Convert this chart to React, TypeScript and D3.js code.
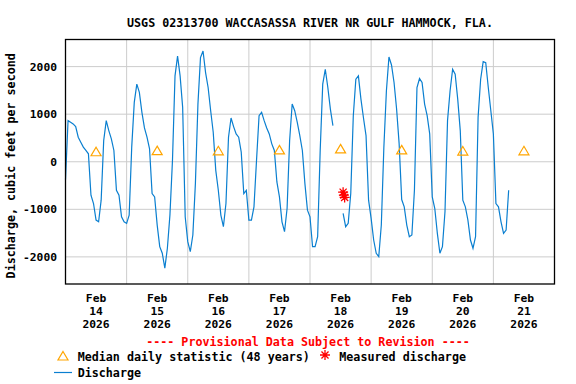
import React from 'react';
import * as d3 from 'd3';

const TITLE = 'USGS 02313700 WACCASASSA RIVER NR GULF HAMMOCK, FLA.';
const Y_LABEL = 'Discharge, cubic feet per second';
const PROVISIONAL = '---- Provisional Data Subject to Revision ----';

// discharge, one value per hour starting Feb 14 2026 00:00 (null = gap)
const seriesStart = new Date(2026, 1, 14, 0, 0);
const dischargeHourly: (number | null)[] = [
  -380, 864, 830, 795, 740, 516, 411, 307, 237, 167,
  -704, -878, -1227, -1262, -808, 446, 864, 655, 481, 237,
  -600, -704, -1157, -1262, -1296, -1122, 307, 1248, 1631, 1457,
  1039, 711, 516, 272, -669, -739, -1331, -1784, -1924, -2237,
  -1819, -1122, 28, 1805, 2223, 1805, 1143, -1157, -1680, -1889,
  -1540, -460, 1213, 2189, 2328, 1875, 1561, 1073, 620, -181,
  -600, -1122, -1366, -878, 516, 920, 739, 585, 516, 202,
  -669, -600, -1227, -1227, -948, 28, 969, 1039, 864, 711,
  585, 376, 237, -425, -739, -1262, -1471, -983, 446, 1213,
  1073, 829, 551, 237, -460, -1018, -1157, -1784, -1784, -1575,
  237, 1631, 1945, 1561, 1108, 760, null, null, null, -1087,
  -1366, -1296, -669, 969, 1735, 1805, 1317, 920, 551, -808,
  -1192, -1645, -1924, -1993, -1331, 307, 1492, 2203, 2035, 1666,
  1108, 376, -795, -948, -1331, -1575, -1540, -600, 1561, 1749,
  1666, 1213, 969, 585, -739, -983, -1505, -1924, -1784, -1052,
  864, 1492, 1945, 1840, 1317, 655, -808, -948, -1227, -1645,
  -1819, -1575, 934, 1735, 2105, 2084, 1561, 1073, 585, -878,
  -948, -1262, -1505, -1436, -600,
];

// median daily statistic, plotted at noon of each day
const medianDays = [14, 15, 16, 17, 18, 19, 20, 21];
const medianValues = [210, 235, 230, 250, 270, 250, 225, 230];

// field measurements on Feb 18
const measuredTimes = [
  new Date(2026, 1, 18, 13, 0),
  new Date(2026, 1, 18, 13, 18),
  new Date(2026, 1, 18, 13, 36),
];
const measuredValues = [-640, -700, -750];

const yTicks = [-2000, -1000, 0, 1000, 2000];

const W = 576;
const H = 384;
const m = { left: 65.5, right: 554.5, top: 39.5, bottom: 284 };

const FONT = "'DejaVu Sans Mono', 'Liberation Mono', monospace";
const BLUE = '#0a7fd0';
const ORANGE = '#ffa500';
const RED = '#ff0000';

const triangle = (x: number, y: number) =>
  `M${x},${y - 4.5}L${x + 5},${y + 4}L${x - 5},${y + 4}Z`;

const Asterisk: React.FC<{ x: number; y: number; r?: number }> = ({ x, y, r = 5 }) => {
  const d = d3.range(4).map((i) => {
    const a = (i * Math.PI) / 4;
    const dx = Math.cos(a) * r;
    const dy = Math.sin(a) * r;
    return `M${x - dx},${y - dy}L${x + dx},${y + dy}`;
  }).join('');
  return <path d={d} stroke={RED} strokeWidth={1.3} fill="none" />;
};

export default function App() {
  const x = d3
    .scaleTime()
    .domain([new Date(2026, 1, 14), new Date(2026, 1, 22)])
    .range([m.left, m.right]);
  const y = d3.scaleLinear().domain([-2570, 2570]).range([m.bottom, m.top]);

  const points = dischargeHourly.map((v, i) => ({
    t: d3.timeHour.offset(seriesStart, i),
    v,
  }));
  const line = d3
    .line<{ t: Date; v: number | null }>()
    .defined((d) => d.v !== null)
    .x((d) => x(d.t))
    .y((d) => y(d.v as number));

  const dayLines = d3.timeDay.range(new Date(2026, 1, 15), new Date(2026, 1, 22));
  const dayLabels = d3.timeDay.range(new Date(2026, 1, 14), new Date(2026, 1, 22));
  const monthFmt = d3.timeFormat('%b');
  const dayFmt = d3.timeFormat('%d');
  const yearFmt = d3.timeFormat('%Y');

  return (
    <svg
      width={W}
      height={H}
      style={{ position: 'absolute', left: 0, top: 0, background: '#fff' }}
      fontFamily={FONT}
      fontWeight="bold"
    >
      <rect width={W} height={H} fill="#fff" />
      <text x={310} y={26.5} textAnchor="middle" fontSize={11.7}>
        {TITLE}
      </text>

      {/* grid */}
      {yTicks.map((t) => (
        <line key={t} x1={m.left} x2={m.right} y1={y(t)} y2={y(t)} stroke="#cccccc" strokeWidth={1} />
      ))}
      {dayLines.map((d) => (
        <line key={+d} x1={x(d)} x2={x(d)} y1={m.top} y2={m.bottom} stroke="#cccccc" strokeWidth={1} />
      ))}

      {/* discharge */}
      <path d={line(points) || ''} fill="none" stroke={BLUE} strokeWidth={1.2} />

      {/* median markers */}
      {medianDays.map((day, i) => (
        <path
          key={day}
          d={triangle(x(new Date(2026, 1, day, 12)), y(medianValues[i]))}
          fill="none"
          stroke={ORANGE}
          strokeWidth={1.2}
        />
      ))}

      {/* measurements */}
      {measuredTimes.map((t, i) => (
        <Asterisk key={i} x={x(t)} y={y(measuredValues[i])} />
      ))}

      {/* frame */}
      <rect
        x={m.left}
        y={m.top}
        width={m.right - m.left}
        height={m.bottom - m.top}
        fill="none"
        stroke="#000"
        strokeWidth={1.3}
      />

      {/* y axis */}
      {yTicks.map((t) => (
        <text key={t} x={57} y={y(t) + 4} textAnchor="end" fontSize={11.3}>
          {t}
        </text>
      ))}
      <text
        transform={`translate(14.5,${165.8}) rotate(-90)`}
        textAnchor="middle"
        fontSize={11.7}
      >
        {Y_LABEL}
      </text>

      {/* x axis */}
      {dayLabels.map((d) => {
        const cx = x(d3.timeHour.offset(d, 12));
        return (
          <g key={+d} fontSize={11.3} textAnchor="middle">
            <text x={cx} y={302}>{monthFmt(d)}</text>
            <text x={cx} y={315}>{dayFmt(d)}</text>
            <text x={cx} y={328}>{yearFmt(d)}</text>
          </g>
        );
      })}

      {/* footer */}
      <text x={308} y={346} textAnchor="middle" fontSize={11.7} fill={RED}>
        {PROVISIONAL}
      </text>
      <path d={triangle(63, 356)} fill="none" stroke={ORANGE} strokeWidth={1.2} />
      <text x={77.7} y={360.5} fontSize={11.7}>
        Median daily statistic (48 years)
      </text>
      <Asterisk x={325} y={355} />
      <text x={339.3} y={360.5} fontSize={11.7}>
        Measured discharge
      </text>
      <line x1={54} x2={72} y1={372.5} y2={372.5} stroke={BLUE} strokeWidth={1.2} />
      <text x={77.7} y={376.7} fontSize={11.7}>
        Discharge
      </text>
    </svg>
  );
}
